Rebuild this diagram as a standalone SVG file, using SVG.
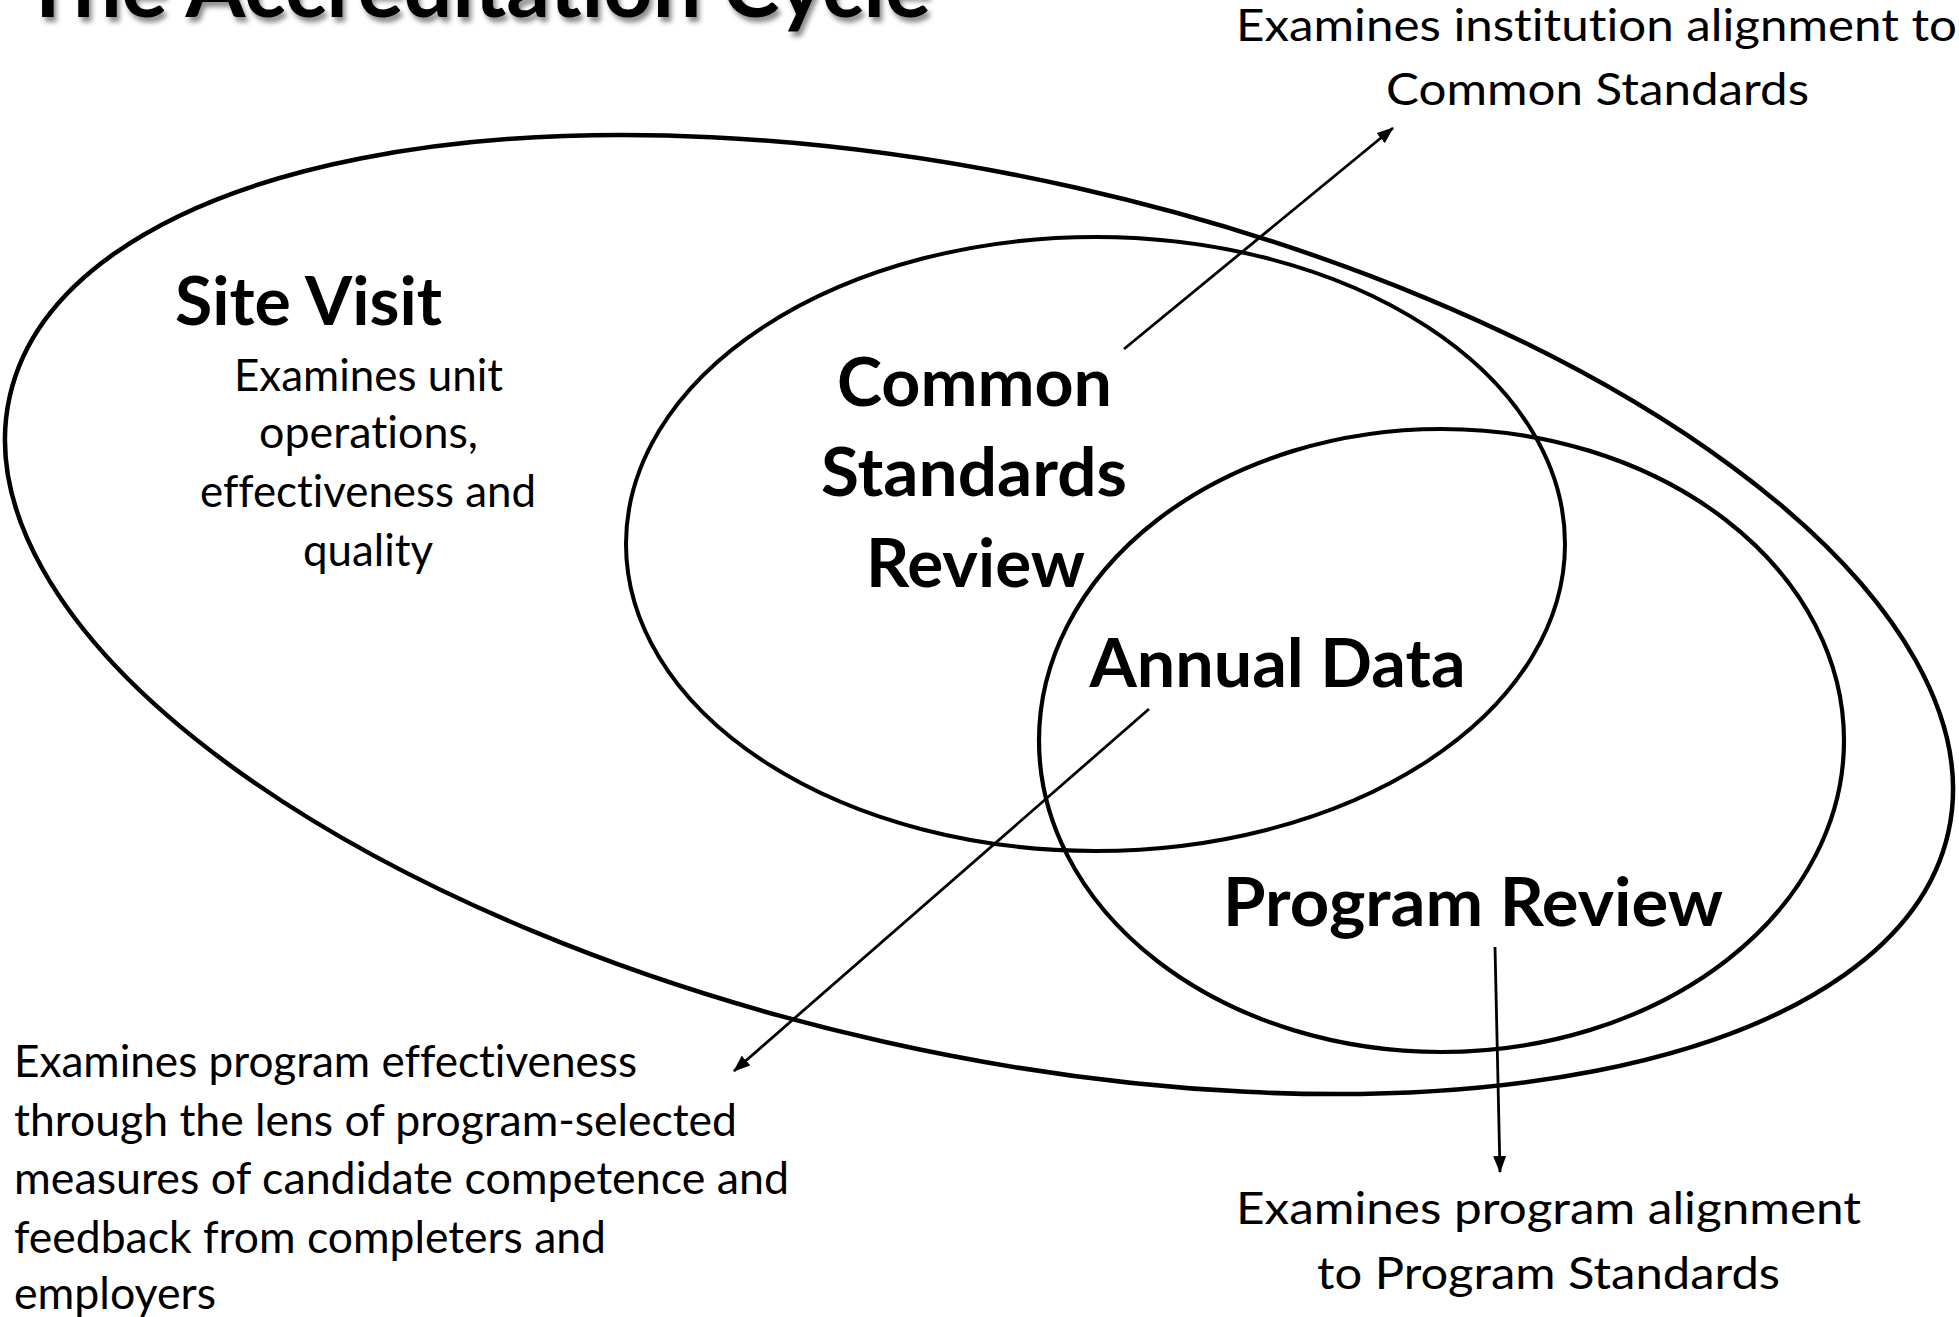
<svg xmlns="http://www.w3.org/2000/svg" width="1959" height="1317" viewBox="0 0 1959 1317">
  <defs>
    <filter id="shadow" x="-5%" y="-50%" width="110%" height="200%">
      <feDropShadow dx="3" dy="5" stdDeviation="2.5" flood-color="#000" flood-opacity="0.45"/>
    </filter>
    <marker id="ah" markerWidth="17" markerHeight="13" refX="16" refY="6.5" orient="auto" markerUnits="userSpaceOnUse">
      <path d="M0,0 L17,6.5 L0,13 z" fill="#000"/>
    </marker>
    <style>
      text { font-variant-ligatures: none; }
      .ring { fill: none; stroke: #000; }
      .head { font-family: Lato, "Open Sans", sans-serif; font-weight: bold; font-size: 67px; fill: #000; text-anchor: middle; }
      .body { font-family: Lato, "Open Sans", sans-serif; font-size: 44px; fill: #000; }
      .mid { text-anchor: middle; }
      .conn { stroke: #000; stroke-width: 2.8; fill: none; marker-end: url(#ah); }
    </style>
  </defs>
  <rect width="1959" height="1317" fill="#fff"/>

  <text x="22" y="17" font-family="Lato, 'Open Sans', sans-serif" font-weight="bold" font-size="84" textLength="909" lengthAdjust="spacingAndGlyphs" filter="url(#shadow)">The Accreditation Cycle</text>

  <g id="site-visit">
    <ellipse class="ring" cx="979" cy="614.5" rx="993.5" ry="437.7" transform="rotate(12.69 979 614.5)" stroke-width="4.5"/>
    <text class="head" x="308.5" y="325" textLength="267" lengthAdjust="spacingAndGlyphs">Site Visit</text>
    <text class="body mid" x="368.5" y="391" textLength="269" lengthAdjust="spacingAndGlyphs">Examines unit</text>
    <text class="body mid" x="368.5" y="448" textLength="219" lengthAdjust="spacingAndGlyphs">operations,</text>
    <text class="body mid" x="368" y="507" textLength="336" lengthAdjust="spacingAndGlyphs">effectiveness and</text>
    <text class="body mid" x="368" y="566" textLength="130" lengthAdjust="spacingAndGlyphs">quality</text>
  </g>

  <g id="common-standards-review">
    <ellipse class="ring" cx="1095.5" cy="544" rx="469.5" ry="307" stroke-width="4"/>
    <text class="head" x="974.5" y="406" textLength="275" lengthAdjust="spacingAndGlyphs">Common</text>
    <text class="head" x="974" y="496" textLength="306" lengthAdjust="spacingAndGlyphs">Standards</text>
    <text class="head" x="975.5" y="587" textLength="219" lengthAdjust="spacingAndGlyphs">Review</text>
  </g>

  <g id="program-review">
    <ellipse class="ring" cx="1441.5" cy="740.5" rx="402.5" ry="311.5" stroke-width="4.2"/>
    <text class="head" x="1277.5" y="687" textLength="376" lengthAdjust="spacingAndGlyphs">Annual Data</text>
    <text class="head" x="1473" y="926" textLength="500" lengthAdjust="spacingAndGlyphs">Program Review</text>
  </g>

  <g id="note-common-standards">
    <text class="body mid" x="1596.5" y="41" textLength="721" lengthAdjust="spacingAndGlyphs">Examines institution alignment to</text>
    <text class="body mid" x="1597.5" y="105" textLength="423" lengthAdjust="spacingAndGlyphs">Common Standards</text>
  </g>

  <g id="note-annual-data">
    <text class="body" x="14" y="1077" textLength="623" lengthAdjust="spacingAndGlyphs">Examines program effectiveness</text>
    <text class="body" x="14" y="1136" textLength="723" lengthAdjust="spacingAndGlyphs">through the lens of program-selected</text>
    <text class="body" x="14" y="1194" textLength="775" lengthAdjust="spacingAndGlyphs">measures of candidate competence and</text>
    <text class="body" x="14" y="1253" textLength="592" lengthAdjust="spacingAndGlyphs">feedback from completers and</text>
    <text class="body" x="14" y="1309" textLength="202" lengthAdjust="spacingAndGlyphs">employers</text>
  </g>

  <g id="note-program-review">
    <text class="body mid" x="1548.5" y="1224" textLength="625" lengthAdjust="spacingAndGlyphs">Examines program alignment</text>
    <text class="body mid" x="1548.5" y="1289" textLength="463" lengthAdjust="spacingAndGlyphs">to Program Standards</text>
  </g>

  <g id="connectors">
    <line class="conn" x1="1124" y1="349" x2="1393" y2="128"/>
    <line class="conn" x1="1149" y1="709" x2="734" y2="1071"/>
    <line class="conn" x1="1495" y1="947" x2="1500" y2="1172"/>
  </g>
</svg>
